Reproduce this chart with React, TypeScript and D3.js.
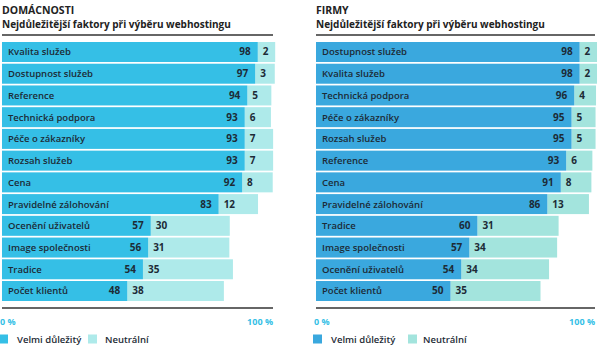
import React, { useRef, useEffect } from "react";
import * as d3 from "d3";

const homeCategories = [
  "Kvalita služeb",
  "Dostupnost služeb",
  "Reference",
  "Technická podpora",
  "Péče o zákazníky",
  "Rozsah služeb",
  "Cena",
  "Pravidelné zálohování",
  "Ocenění uživatelů",
  "Image společnosti",
  "Tradice",
  "Počet klientů",
];
const homeVeryImportant = [98, 97, 94, 93, 93, 93, 92, 83, 57, 56, 54, 48];
const homeNeutral = [2, 3, 5, 6, 7, 7, 8, 12, 30, 31, 35, 38];

const firmCategories = [
  "Dostupnost služeb",
  "Kvalita služeb",
  "Technická podpora",
  "Péče o zákazníky",
  "Rozsah služeb",
  "Reference",
  "Cena",
  "Pravidelné zálohování",
  "Tradice",
  "Image společnosti",
  "Ocenění uživatelů",
  "Počet klientů",
];
const firmVeryImportant = [98, 98, 96, 95, 95, 93, 91, 86, 60, 57, 54, 50];
const firmNeutral = [2, 2, 4, 5, 5, 6, 8, 13, 31, 34, 34, 35];

const subtitle = "Nejdůležitější faktory při výběru webhostingu";
const axisLabels = ["0 %", "100 %"];
const legendLabels = ["Velmi důležitý", "Neutrální"];

const FONT = "'Open Sans', 'DejaVu Sans', sans-serif";

const App = () => {
  const svgRef = useRef(null);

  useEffect(() => {
    const svg = d3.select(svgRef.current);
    svg.selectAll("*").remove();

    const panels = [
      {
        title: "DOMÁCNOSTI",
        categories: homeCategories,
        strong: homeVeryImportant,
        neutral: homeNeutral,
        x0: 2,
        x100: 263,
        ruleEnd: 273,
        dark: "#35bfe6",
        light: "#aeeaea",
        legend: [-1, 17, 88, 105],
      },
      {
        title: "FIRMY",
        categories: firmCategories,
        strong: firmVeryImportant,
        neutral: firmNeutral,
        x0: 316,
        x100: 585,
        ruleEnd: 595,
        dark: "#3aa8de",
        light: "#a3e4dd",
        legend: [313, 331, 408, 423],
      },
    ];

    // neutral segment keeps room for its label, like the original
    const neutralWidth = d3.scaleLinear().domain([0, 100]).range([13, 233]);

    panels.forEach((p) => {
      const g = svg.append("g");
      const x = d3.scaleLinear().domain([0, 100]).range([p.x0, p.x100]);
      const y = d3.scaleBand().domain(p.categories).range([42, 301]).paddingInner(0.08);
      const rows = p.categories.map((c, i) => ({ category: c, strong: p.strong[i], neutral: p.neutral[i] }));

      /*** titles ***/
      g.append("text")
        .attr("x", p.x0)
        .attr("y", 14)
        .attr("font-size", 10.5)
        .attr("font-weight", 700)
        .attr("fill", "#222")
        .text(p.title);
      g.append("text")
        .attr("x", p.x0)
        .attr("y", 27.5)
        .attr("font-size", 10)
        .attr("font-weight", 700)
        .attr("fill", "#222")
        .text(subtitle);

      [35, 308].forEach((ry) => {
        g.append("line")
          .attr("x1", p.x0)
          .attr("x2", p.ruleEnd)
          .attr("y1", ry)
          .attr("y2", ry)
          .attr("stroke", "#333")
          .attr("stroke-width", 1.5);
      });

      /*** bars ***/
      const row = g
        .selectAll(".row")
        .data(rows)
        .enter()
        .append("g")
        .attr("class", "row")
        .attr("transform", (d) => `translate(0, ${y(d.category)})`);

      row
        .append("rect")
        .attr("x", (d) => x(d.strong))
        .attr("y", 0)
        .attr("width", (d) => neutralWidth(d.neutral))
        .attr("height", y.bandwidth())
        .attr("fill", p.light);

      row
        .append("rect")
        .attr("x", x(0))
        .attr("y", 0)
        .attr("width", (d) => x(d.strong) - x(0))
        .attr("height", y.bandwidth())
        .attr("fill", p.dark);

      const mid = y.bandwidth() / 2 + 3.5;
      row
        .append("text")
        .attr("x", x(0) + 6)
        .attr("y", mid)
        .attr("font-size", 9.5)
        .attr("font-weight", 600)
        .attr("fill", "#1d2b36")
        .text((d) => d.category);
      row
        .append("text")
        .attr("x", (d) => x(d.strong) - 7)
        .attr("y", mid)
        .attr("text-anchor", "end")
        .attr("font-size", 10)
        .attr("font-weight", 700)
        .attr("fill", "#1d2b36")
        .text((d) => d.strong);
      row
        .append("text")
        .attr("x", (d) => x(d.strong) + 5)
        .attr("y", mid)
        .attr("font-size", 10)
        .attr("font-weight", 700)
        .attr("fill", "#1d2b36")
        .text((d) => d.neutral);

      /*** axis ends ***/
      g.append("text")
        .attr("x", p.x0 - 2)
        .attr("y", 325)
        .attr("font-size", 9)
        .attr("font-weight", 700)
        .attr("fill", "#35bfe6")
        .text(axisLabels[0]);
      g.append("text")
        .attr("x", p.ruleEnd)
        .attr("y", 325)
        .attr("text-anchor", "end")
        .attr("font-size", 9)
        .attr("font-weight", 700)
        .attr("fill", "#35bfe6")
        .text(axisLabels[1]);

      /*** legend ***/
      [p.dark, p.light].forEach((c, i) => {
        g.append("rect")
          .attr("x", p.legend[i * 2])
          .attr("y", 334.5)
          .attr("width", 9)
          .attr("height", 9)
          .attr("fill", c);
        g.append("text")
          .attr("x", p.legend[i * 2 + 1])
          .attr("y", 342.5)
          .attr("font-size", 9.5)
          .attr("font-weight", 600)
          .attr("fill", "#1d2b36")
          .text(legendLabels[i]);
      });
    });
  }, []);

  return (
    <svg
      ref={svgRef}
      width={600}
      height={350}
      style={{ position: "absolute", left: 0, top: 0, background: "#fff", fontFamily: FONT }}
    ></svg>
  );
};

export default App;
